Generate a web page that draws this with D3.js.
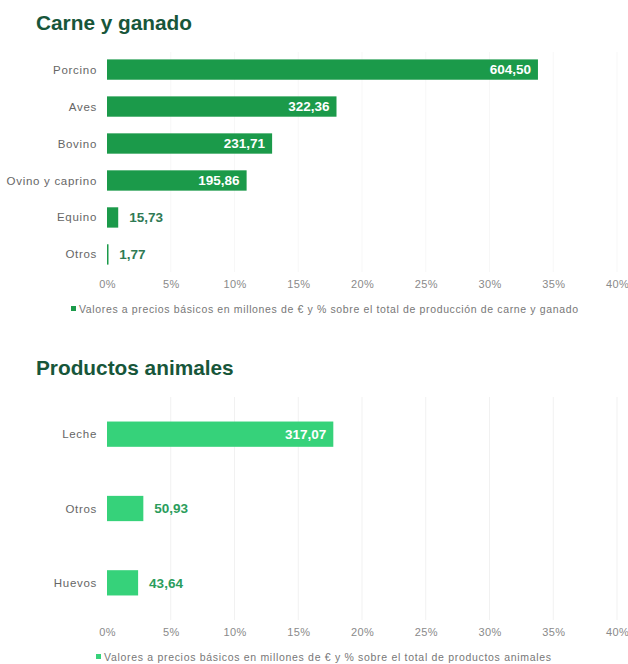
<!DOCTYPE html>
<html><head><meta charset="utf-8">
<script src="https://cdn.jsdelivr.net/npm/d3@7"></script>
<style>
html,body{margin:0;padding:0;background:#fff;}
svg{display:block;font-family:"Liberation Sans",Arial,sans-serif;}
</style></head>
<body><svg id="c" width="628" height="664"></svg>
<script>
// Chart 1 data
const carneCategories = ["Porcino","Aves","Bovino","Ovino y caprino","Equino","Otros"];
const carneValues = [604.50, 322.36, 231.71, 195.86, 15.73, 1.77];
const carnePercent = [33.8, 18.0, 12.95, 10.95, 0.88, 0.10];
// Chart 2 data
const animCategories = ["Leche","Otros","Huevos"];
const animValues = [317.07, 50.93, 43.64];
const animPercent = [17.75, 2.85, 2.44];
const tickValues = [0,5,10,15,20,25,30,35,40];
const titles = ["Carne y ganado","Productos animales"];
const legends = ["Valores a precios básicos en millones de € y % sobre el total de producción de carne y ganado",
                 "Valores a precios básicos en millones de € y % sobre el total de productos animales"];

const svg = d3.select("#c");
const fmt = v => d3.format(".2f")(v).replace(".", ",");

function drawChart(cfg){
  const g = svg.append("g");
  const x = d3.scaleLinear().domain([0,40]).range([107,617]);
  const y = d3.scaleBand().domain(cfg.cats).range([cfg.top, cfg.bottom]).paddingInner(cfg.pad).paddingOuter(cfg.padOuter);

  g.append("text").attr("x",36).attr("y",cfg.titleY).text(cfg.title)
    .attr("font-size",20.8).attr("font-weight","bold").attr("fill","#17563a");

  // faint gridlines
  g.append("g").selectAll("line").data(tickValues.slice(1)).join("line")
    .attr("x1",d=>x(d)).attr("x2",d=>x(d)).attr("y1",cfg.top).attr("y2",cfg.bottom)
    .attr("stroke",cfg.gridColor).attr("stroke-width",1);

  // axis
  const ax = g.append("g").attr("transform",`translate(0,${cfg.axisY})`)
    .call(d3.axisBottom(x).tickValues(tickValues).tickFormat(d=>d+"%").tickSize(0).tickPadding(0));
  ax.select(".domain").remove();
  ax.selectAll("text").attr("font-size",11).attr("letter-spacing","0.4px").attr("fill","#8a8a8a")
    .attr("font-family","Liberation Sans, Arial, sans-serif");

  // category labels
  g.selectAll(".cat").data(cfg.cats).join("text")
    .attr("x",97).attr("y",d=>y(d)+y.bandwidth()/2).attr("dy","0.35em")
    .attr("text-anchor","end").attr("font-size",11.5).attr("letter-spacing","0.7px").attr("fill","#666").text(d=>d);

  const data = cfg.cats.map((c,i)=>({c, v:cfg.vals[i], p:cfg.pct[i]}));
  g.selectAll(".bar").data(data).join("rect")
    .attr("x",x(0)).attr("y",d=>y(d.c)).attr("width",d=>Math.max(1.5,x(d.p)-x(0)))
    .attr("height",y.bandwidth()).attr("fill",cfg.color);

  g.selectAll(".val").data(data).join("text")
    .attr("x",d=> (x(d.p)-x(0) > 60) ? x(d.p)-7 : x(d.p)+11)
    .attr("y",d=>y(d.c)+y.bandwidth()/2).attr("dy","0.36em")
    .attr("text-anchor",d=> (x(d.p)-x(0) > 60) ? "end" : "start")
    .attr("font-size",13.5).attr("font-weight","bold")
    .attr("fill",d=> (x(d.p)-x(0) > 60) ? "#fff" : cfg.outColor)
    .text(d=>fmt(d.v));

  // legend
  const lg = g.append("g");
  const lt = lg.append("text").attr("y",cfg.legendY).attr("font-size",10.5).attr("fill","#777")
    .attr("textLength",cfg.legendW).attr("lengthAdjust","spacing").text(cfg.legend);
  const startX = cfg.legendX;
  lt.attr("x",startX+8);
  lg.append("rect").attr("x",startX).attr("y",cfg.legendY-7).attr("width",5).attr("height",5).attr("fill",cfg.color);
}

drawChart({cats:carneCategories, vals:carneValues, pct:carnePercent, top:52, bottom:272, pad:0.45, padOuter:0.2,
  title:titles[0], titleY:30, axisY:280, legendY:313, legend:legends[0], legendX:71, legendW:499,
  color:"#1b9a4a", outColor:"#2f7a55", gridColor:"#f7f7f7"});
drawChart({cats:animCategories, vals:animValues, pct:animPercent, top:397, bottom:620, pad:0.66, padOuter:0.33,
  title:titles[1], titleY:375, axisY:628, legendY:661, legend:legends[1], legendX:96, legendW:447,
  color:"#36d27a", outColor:"#2a9d5c", gridColor:"#f1f1f1"});
</script></body></html>
